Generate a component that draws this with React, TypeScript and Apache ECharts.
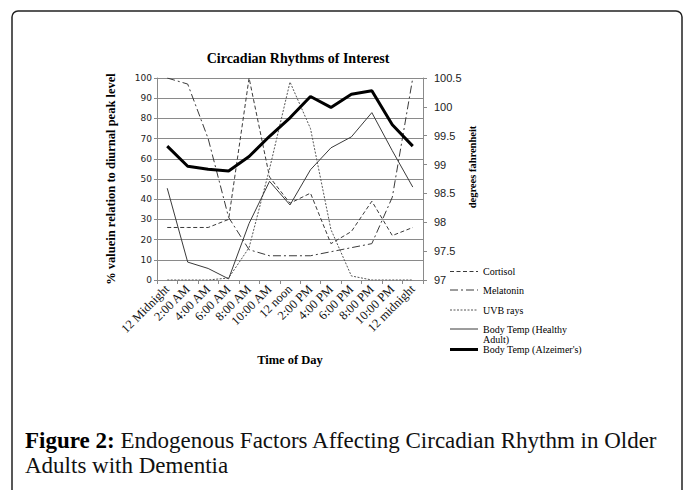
import React, { useEffect, useRef } from "react";
import * as echarts from "echarts";

const categories = [
  "12 Midnight", "2:00 AM", "4:00 AM", "6:00 AM", "8:00 AM", "10:00 AM", "12 noon",
  "2:00 PM", "4:00 PM", "6:00 PM", "8:00 PM", "10:00 PM", "12 midnight",
];
// percent of diurnal peak level (left axis)
const cortisol = [26, 26, 26, 30, 100, 51, 38, 43, 18, 24, 39, 22, 26];
const melatonin = [100, 97, 70, 31, 15, 12, 12, 12, 14, 16, 18, 41, 100];
const uvbRays = [0, 0, 0, 1, 16, 55, 98, 75, 25, 2, 0, 0, 0];
// degrees fahrenheit (right axis)
const bodyTempHealthy = [98.59, 97.31, 97.2, 97.02, 97.98, 98.71, 98.3, 98.91, 99.29, 99.48, 99.9, 99.24, 98.61];
const bodyTempAlzheimers = [99.32, 98.97, 98.92, 98.89, 99.14, 99.49, 99.81, 100.18, 99.99, 100.22, 100.28, 99.69, 99.32];

const seriesNames = ["Cortisol", "Melatonin", "UVB rays", "Body Temp (Healthy Adult)", "Body Temp (Alzeimer's)"];
const seriesData = [cortisol, melatonin, uvbRays, bodyTempHealthy, bodyTempAlzheimers];
const seriesAxis = [0, 0, 0, 1, 1];

const SERIF = "'Liberation Serif', 'Times New Roman', serif";

export default function App() {
  const ref = useRef<HTMLDivElement>(null);
  useEffect(() => {
    if (!ref.current) return;
    const chart = echarts.init(ref.current, null, { renderer: "svg" });

    const thin = "#3a3a3a";
    const lineStyles = [
      { color: thin, width: 1, dash: [4, 2.5] },
      { color: thin, width: 1, dash: [8, 3, 2, 3] },
      { color: "#555", width: 1, dash: [2, 1.5] },
      { color: thin, width: 1, dash: null as number[] | null },
      { color: "#000", width: 3, dash: null as number[] | null },
    ];

    // legend drawn at fixed positions (as in the reference)
    const legendY = [271.5, 290, 310, 329, 349.5];
    const legendGraphics: any[] = [];
    seriesNames.forEach((name, i) => {
      const ls = lineStyles[i];
      legendGraphics.push({
        type: "line",
        silent: true,
        shape: { x1: 450, y1: legendY[i], x2: 478, y2: legendY[i] },
        style: { stroke: ls.color, lineWidth: ls.width, lineDash: ls.dash || undefined },
      });
      const isWrapped = i === 3;
      legendGraphics.push({
        type: "text",
        silent: true,
        x: 483,
        y: isWrapped ? legendY[i] - 5 : legendY[i],
        style: {
          text: isWrapped ? "Body Temp (Healthy\nAdult)" : name,
          align: "left",
          verticalAlign: isWrapped ? "top" : "middle",
          fontFamily: SERIF,
          fontSize: 10,
          lineHeight: 10,
          fill: "#000",
        },
      });
    });

    chart.setOption({
      animation: false,
      backgroundColor: "#fff",
      grid: { left: 157, right: 260, top: 78, bottom: 210, containLabel: false },
      xAxis: {
        type: "category",
        data: categories,
        boundaryGap: true,
        name: "Time of Day",
        nameLocation: "middle",
        nameGap: 73,
        nameTextStyle: { fontFamily: SERIF, fontSize: 12.5, fontWeight: "bold", color: "#000" },
        axisLine: { lineStyle: { color: "#8a8a8a", width: 1 } },
        axisTick: { show: true, interval: 0, length: 4, lineStyle: { color: "#8a8a8a" } },
        axisLabel: { interval: 0, rotate: 45, margin: 7, fontFamily: SERIF, fontSize: 12.5, color: "#111" },
        splitLine: { show: false },
      },
      yAxis: [
        {
          type: "value",
          min: 0,
          max: 100,
          interval: 10,
          name: "% valuein relation to diurnal peak level",
          nameLocation: "middle",
          nameGap: 40,
          nameRotate: 90,
          nameTextStyle: { fontFamily: SERIF, fontSize: 12.5, fontWeight: "bold", color: "#000" },
          axisLine: { show: true, lineStyle: { color: "#8a8a8a", width: 1 } },
          axisTick: { show: true, length: 3, lineStyle: { color: "#8a8a8a" } },
          axisLabel: { margin: 5, fontFamily: "'DejaVu Sans', Verdana, sans-serif", fontSize: 9, color: "#222" },
          splitLine: { show: true, lineStyle: { color: "#8a8a8a", width: 1 } },
        },
        {
          type: "value",
          min: 97,
          max: 100.5,
          interval: 0.5,
          position: "right",
          name: "degrees fahrenheit",
          nameLocation: "middle",
          nameGap: 44,
          nameRotate: 90,
          nameTextStyle: { fontFamily: SERIF, fontSize: 10.5, fontWeight: "bold", color: "#000", padding: [0, 0, 0, 24] },
          axisLine: { show: true, lineStyle: { color: "#8a8a8a", width: 1 } },
          axisTick: { show: true, length: 4, lineStyle: { color: "#8a8a8a" } },
          axisLabel: { margin: 11, fontFamily: "'Liberation Sans', Arial, sans-serif", fontSize: 11, color: "#222" },
          splitLine: { show: false },
        },
      ],
      series: seriesNames.map((name, i) => ({
        name,
        type: "line",
        data: seriesData[i],
        yAxisIndex: seriesAxis[i],
        symbol: "none",
        lineStyle: {
          color: lineStyles[i].color,
          width: lineStyles[i].width,
          type: lineStyles[i].dash || "solid",
        },
        itemStyle: { color: lineStyles[i].color },
      })),
      graphic: [
        {
          type: "rect",
          silent: true,
          shape: { x: 12, y: 11, width: 670, height: 500, r: [6, 6, 0, 0] },
          style: { fill: "none", stroke: "#222", lineWidth: 1.5 },
        },
        {
          type: "text",
          silent: true,
          x: 298,
          y: 58,
          style: {
            text: "Circadian Rhythms of Interest",
            align: "center",
            verticalAlign: "middle",
            fontFamily: SERIF,
            fontSize: 14,
            fontWeight: "bold",
            fill: "#000",
          },
        },
        ...legendGraphics,
        {
          type: "text",
          silent: true,
          x: 25,
          y: 428,
          style: {
            text: "{b|Figure 2:} Endogenous Factors Affecting Circadian Rhythm in Older\nAdults with Dementia",
            align: "left",
            verticalAlign: "top",
            fontFamily: SERIF,
            fontSize: 23,
            lineHeight: 25,
            fill: "#111",
            rich: {
              b: { fontFamily: SERIF, fontSize: 23, fontWeight: "bold", lineHeight: 25, fill: "#000" },
            },
          },
        },
      ],
    });
    return () => chart.dispose();
  }, []);
  return <div ref={ref} style={{ position: "absolute", left: 0, top: 0, width: 683, height: 490 }} />;
}
